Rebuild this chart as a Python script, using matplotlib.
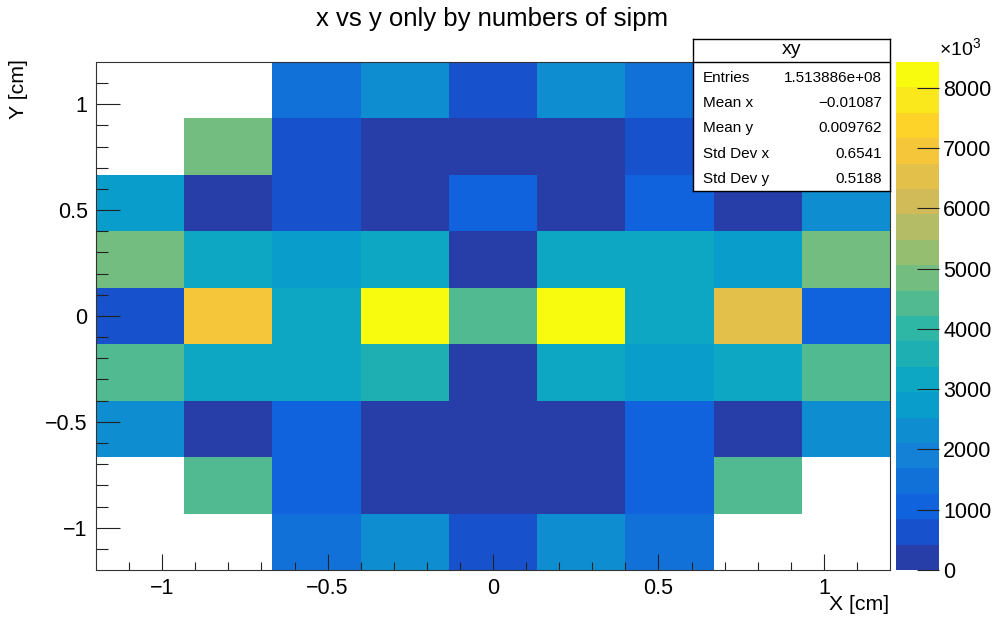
import numpy as np
import matplotlib
matplotlib.use('Agg')
import matplotlib.pyplot as plt
from matplotlib.colors import LinearSegmentedColormap, ListedColormap, BoundaryNorm

plt.rcParams['font.family'] = ['Liberation Sans', 'DejaVu Sans']
plt.rcParams['mathtext.fontset'] = 'custom'
plt.rcParams['mathtext.rm'] = 'Liberation Sans'

# bin contents in units of 10^3, rows listed from top (y = +1.07) to bottom (y = -1.07)
counts_k = [
    [0, 0, 1475, 2320, 630, 2320, 1475, 0, 0],
    [0, 4850, 630, 210, 210, 210, 630, 4850, 0],
    [2740, 210, 630, 210, 1050, 210, 1050, 210, 2320],
    [4850, 3160, 2740, 3160, 210, 3160, 3160, 2740, 4850],
    [630, 6950, 3160, 8431, 4430, 8431, 3160, 6530, 1050],
    [4430, 3160, 3160, 3580, 210, 3160, 2740, 3160, 4430],
    [2320, 210, 1050, 210, 210, 210, 1050, 210, 2320],
    [0, 4430, 1050, 210, 210, 210, 1050, 4430, 0],
    [0, 0, 1475, 2320, 630, 2320, 1475, 0, 0],
]
x_ticks = [-1, -0.5, 0, 0.5, 1]
y_ticks = [-1, -0.5, 0, 0.5, 1]
z_ticks = [0, 1000, 2000, 3000, 4000, 5000, 6000, 7000, 8000]
stat_names = ['Entries', 'Mean x', 'Mean y', 'Std Dev x', 'Std Dev y']
stat_values = ['1.513886e+08', '\u22120.01087', '0.009762', '0.6541', '0.5188']

# ROOT kBird palette, 20 contour levels
stops = [0.0, 0.125, 0.25, 0.375, 0.5, 0.625, 0.75, 0.875, 1.0]
red = [0.2082, 0.0592, 0.0780, 0.0232, 0.1802, 0.5301, 0.8186, 0.9956, 0.9764]
green = [0.1664, 0.3599, 0.5041, 0.6419, 0.7178, 0.7492, 0.7328, 0.7862, 0.9832]
blue = [0.5293, 0.8684, 0.8385, 0.7914, 0.6425, 0.4662, 0.3499, 0.1968, 0.0539]
bird = LinearSegmentedColormap.from_list(
    'bird', list(zip(stops, zip(red, green, blue))), N=255)
ncont = 20
cmap = ListedColormap([bird((i + 0.99) / ncont) for i in range(ncont)])

z = np.flipud(np.array(counts_k, dtype=float))
z = np.ma.masked_where(z <= 0, z)
zmax = z.max()
levels = np.linspace(0, zmax, ncont + 1)
norm = BoundaryNorm(levels, cmap.N)

xedges = np.linspace(-1.2, 1.2, 10)
yedges = np.linspace(-1.2, 1.2, 10)

W, H = 997, 621
fig = plt.figure(figsize=(W / 100, H / 100), dpi=100)
ax = fig.add_axes([96 / W, 51 / H, 794 / W, 508 / H])
mesh = ax.pcolormesh(xedges, yedges, z, cmap=cmap, norm=norm)
ax.set_xlim(-1.2, 1.2)
ax.set_ylim(-1.2, 1.2)

ax.set_xticks(x_ticks)
ax.set_xticklabels(['\u22121', '\u22120.5', '0', '0.5', '1'])
ax.set_yticks(y_ticks)
ax.set_yticklabels(['\u22121', '\u22120.5', '0', '0.5', '1'])
ax.set_xticks(np.arange(-1.1, 1.15, 0.1), minor=True)
ax.set_yticks(np.arange(-1.1, 1.15, 0.1), minor=True)
ax.tick_params(axis='x', which='major', direction='in', length=11.5, width=0.8,
               labelsize=15.5, pad=6, color='#222222')
ax.tick_params(axis='x', which='minor', direction='in', length=5.8, width=0.8,
               color='#222222')
ax.tick_params(axis='y', which='major', direction='in', length=17, width=0.8,
               labelsize=15.5, pad=6, color='#222222')
ax.tick_params(axis='y', which='minor', direction='in', length=8.6, width=0.8,
               color='#222222')
for sp in ax.spines.values():
    sp.set_linewidth(0.8)
    sp.set_color('#333333')

fig.text(492 / W, 1 - 19 / H, 'x vs y only by numbers of sipm',
         ha='center', va='center', fontsize=18.5)
fig.text(889 / W, 1 - 605 / H, 'X [cm]', ha='right', va='center', fontsize=15.3)
fig.text(18 / W, 1 - 59 / H, 'Y [cm]', ha='center', va='top',
         rotation=90, fontsize=15.3)

# palette axis
cax = fig.add_axes([896 / W, 51 / H, 43 / W, 508 / H])
cb = fig.colorbar(mesh, cax=cax, ticks=z_ticks, spacing='proportional')
cb.outline.set_visible(False)
cax.set_ylim(0, zmax)
cax.tick_params(axis='y', direction='in', length=16, width=0.8,
                labelsize=15.5, pad=3, color='#222222')
cax.minorticks_off()
fig.text(939 / W, 1 - 49 / H, r'$\times10^{3}$', ha='left', va='center',
         fontsize=14)

# statistics box
sax = fig.add_axes([693 / W, 1 - 191 / H, 197 / W, 152 / H])
sax.set_xlim(0, 1)
sax.set_ylim(0, 152)
sax.set_xticks([])
sax.set_yticks([])
sax.set_facecolor('white')
for sp in sax.spines.values():
    sp.set_linewidth(1.0)
    sp.set_color('black')
sax.axhline(152 - 23, color='black', lw=1.0)
sax.text(0.5, 152 - 11, 'xy', ha='center', va='center', fontsize=14)
for i, (name, val) in enumerate(zip(stat_names, stat_values)):
    yy = 152 - 39 - i * 25.2
    sax.text(0.05, yy, name, ha='left', va='center', fontsize=11)
    sax.text(0.96, yy, val, ha='right', va='center', fontsize=11)

fig.savefig('out.png', dpi=100)
